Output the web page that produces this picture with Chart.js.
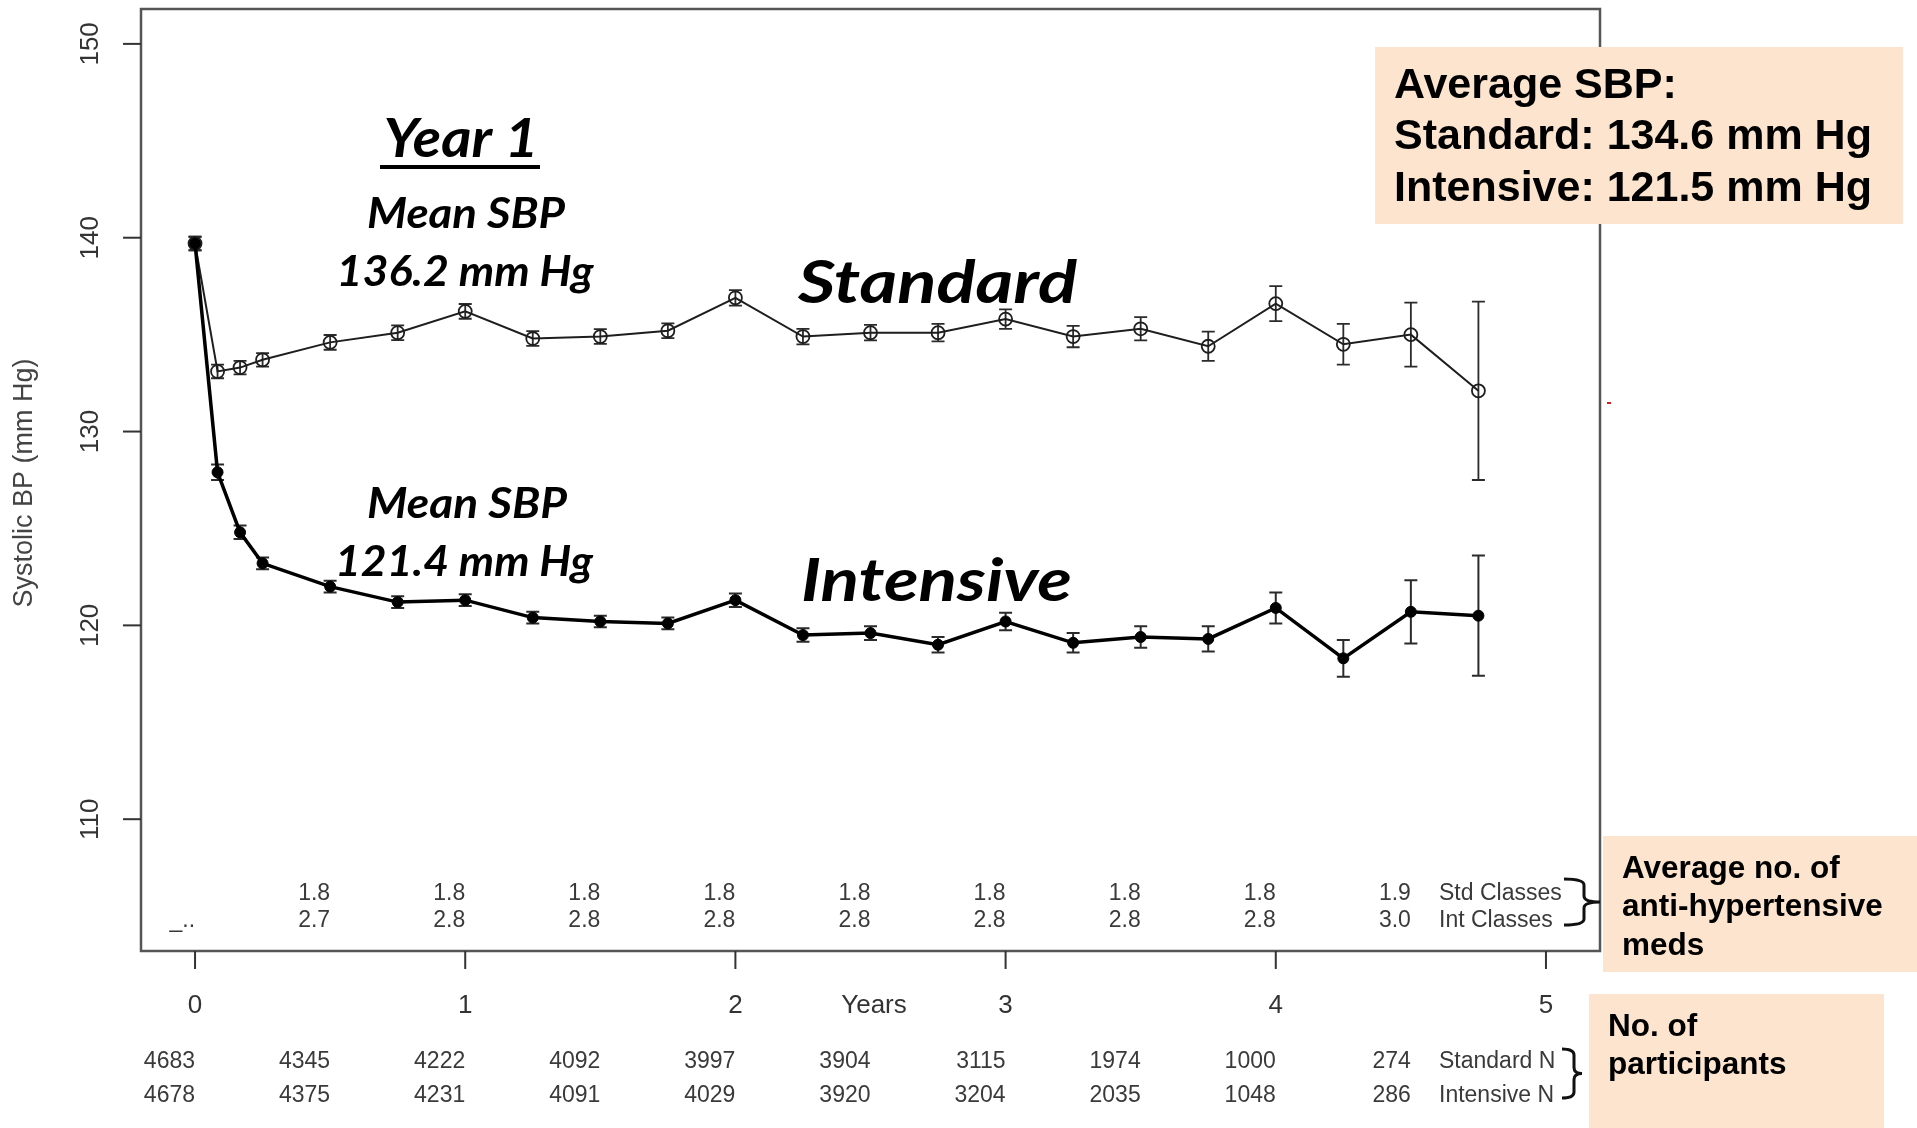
<!DOCTYPE html>
<html>
<head>
<meta charset="utf-8">
<title>Systolic BP over time</title>
<script src="https://cdn.jsdelivr.net/npm/chart.js@4.4.1/dist/chart.umd.min.js"></script>
<style>
  html, body { margin: 0; padding: 0; background: #ffffff; }
  canvas { display: block; }
</style>
</head>
<body>
<canvas id="sbpChart" width="1917" height="1128" style="width:1917px;height:1128px"></canvas>
<script>
// Visit times (years since randomization)
const years = [0, 1/12, 2/12, 0.25, 0.5, 0.75, 1, 1.25, 1.5, 1.75, 2, 2.25, 2.5, 2.75, 3, 3.25, 3.5, 3.75, 4, 4.25, 4.5, 4.75];

// Mean systolic BP (mm Hg) and half-width of the error bar
const standardSBP = [139.7, 133.1, 133.3, 133.7, 134.6, 135.1, 136.2, 134.8, 134.9, 135.2, 136.9, 134.9, 135.1, 135.1, 135.8, 134.9, 135.3, 134.4, 136.6, 134.5, 135.0, 132.1];
const standardErr = [0.35, 0.35, 0.35, 0.35, 0.38, 0.38, 0.38, 0.38, 0.38, 0.38, 0.4, 0.4, 0.4, 0.45, 0.5, 0.55, 0.6, 0.75, 0.9, 1.05, 1.65, 4.6];
const intensiveSBP = [139.7, 127.9, 124.8, 123.2, 122.0, 121.2, 121.3, 120.4, 120.2, 120.1, 121.3, 119.5, 119.6, 119.0, 120.2, 119.1, 119.4, 119.3, 120.9, 118.3, 120.7, 120.5];
const intensiveErr = [0.35, 0.4, 0.35, 0.3, 0.3, 0.3, 0.3, 0.3, 0.3, 0.3, 0.35, 0.35, 0.35, 0.4, 0.45, 0.5, 0.55, 0.65, 0.8, 0.95, 1.63, 3.1];

// Axis ticks
const xTicks = [0, 1, 2, 3, 4, 5];
const yTicks = [110, 120, 130, 140, 150];

// Average number of anti-hypertensive medication classes
const classYears = [0.5, 1, 1.5, 2, 2.5, 3, 3.5, 4, 4.5];
const stdClasses = ['1.8', '1.8', '1.8', '1.8', '1.8', '1.8', '1.8', '1.8', '1.9'];
const intClasses = ['2.7', '2.8', '2.8', '2.8', '2.8', '2.8', '2.8', '2.8', '3.0'];

// Number of participants at each half-year
const nYears = [0, 0.5, 1, 1.5, 2, 2.5, 3, 3.5, 4, 4.5];
const standardN = [4683, 4345, 4222, 4092, 3997, 3904, 3115, 1974, 1000, 274];
const intensiveN = [4678, 4375, 4231, 4091, 4029, 3920, 3204, 2035, 1048, 286];

const toPoints = (vals) => vals.map((v, i) => ({ x: years[i], y: v }));

const SANS = '"Liberation Sans", Arial, Helvetica, sans-serif';
const HAND = 'Lato, "Open Sans", sans-serif';

// Text drawn to a given width (horizontal fit) around a centre point
function fitText(ctx, text, cx, cy, font, width) {
  ctx.save();
  ctx.font = font;
  ctx.textAlign = 'center';
  ctx.textBaseline = 'middle';
  const w = ctx.measureText(text).width;
  const s = width / w;
  ctx.translate(cx, cy);
  ctx.scale(s, 1);
  ctx.fillText(text, 0, 0);
  ctx.restore();
}

function brace(ctx, x0, yTop, yBot, xTip, xMid) {
  const yc = (yTop + yBot) / 2;
  const r = 6;
  ctx.beginPath();
  ctx.moveTo(x0, yTop);
  ctx.quadraticCurveTo(xMid, yTop, xMid, yTop + r);
  ctx.lineTo(xMid, yc - r);
  ctx.quadraticCurveTo(xMid, yc, xTip, yc);
  ctx.quadraticCurveTo(xMid, yc, xMid, yc + r);
  ctx.lineTo(xMid, yBot - r);
  ctx.quadraticCurveTo(xMid, yBot, x0, yBot);
  ctx.stroke();
}

const decor = {
  id: 'sbpDecor',
  beforeDatasetsDraw(chart) {
    const { ctx, scales: { x, y } } = chart;
    ctx.save();
    ctx.strokeStyle = '#2b2b2b';
    [[standardSBP, standardErr, 1.8], [intensiveSBP, intensiveErr, 2]].forEach(([vals, errs, lw]) => {
      ctx.lineWidth = lw;
      vals.forEach((v, i) => {
        const px = x.getPixelForValue(years[i]);
        const top = y.getPixelForValue(v + errs[i]);
        const bot = y.getPixelForValue(v - errs[i]);
        ctx.beginPath();
        ctx.moveTo(px, top); ctx.lineTo(px, bot);
        ctx.moveTo(px - 6.5, top); ctx.lineTo(px + 6.5, top);
        ctx.moveTo(px - 6.5, bot); ctx.lineTo(px + 6.5, bot);
        ctx.stroke();
      });
    });
    ctx.restore();
  },
  afterDraw(chart) {
    const { ctx, chartArea: a, scales: { x, y } } = chart;
    ctx.save();

    // plot frame
    ctx.strokeStyle = '#555555';
    ctx.lineWidth = 2.5;
    ctx.strokeRect(a.left, a.top, a.right - a.left, a.bottom - a.top);

    // y axis ticks and rotated labels
    ctx.strokeStyle = '#333333';
    ctx.lineWidth = 2;
    ctx.fillStyle = '#333333';
    ctx.font = '26px ' + SANS;
    yTicks.forEach(v => {
      const py = y.getPixelForValue(v);
      ctx.beginPath(); ctx.moveTo(a.left - 18, py); ctx.lineTo(a.left, py); ctx.stroke();
      ctx.save();
      ctx.translate(91, py);
      ctx.rotate(-Math.PI / 2);
      ctx.textAlign = 'center';
      ctx.textBaseline = 'middle';
      ctx.fillText(String(v), 0, 0);
      ctx.restore();
    });
    ctx.save();
    ctx.translate(25, 483);
    ctx.rotate(-Math.PI / 2);
    ctx.textAlign = 'center';
    ctx.textBaseline = 'middle';
    ctx.fillStyle = '#444444';
    ctx.font = '27px ' + SANS;
    ctx.fillText('Systolic BP (mm Hg)', 0, 0);
    ctx.restore();

    // x axis ticks and labels
    ctx.textAlign = 'center';
    ctx.textBaseline = 'middle';
    xTicks.forEach(v => {
      const px = x.getPixelForValue(v);
      ctx.beginPath(); ctx.moveTo(px, a.bottom); ctx.lineTo(px, a.bottom + 18); ctx.stroke();
      ctx.fillText(String(v), px, 1006);
    });
    ctx.fillText('Years', 874, 1006);

    // medication classes rows (inside the frame)
    ctx.font = '23px ' + SANS;
    ctx.fillStyle = '#3a3a3a';
    ctx.textAlign = 'right';
    classYears.forEach((t, i) => {
      const px = x.getPixelForValue(t);
      ctx.fillText(stdClasses[i], px, 893.5);
      ctx.fillText(intClasses[i], px, 920.5);
    });
    ctx.fillText('_..', x.getPixelForValue(0), 920.5);
    ctx.textAlign = 'left';
    ctx.fillText('Std Classes', 1439, 893.5);
    ctx.fillText('Int Classes', 1439, 920.5);

    // participant counts below the axis
    ctx.textAlign = 'right';
    nYears.forEach((t, i) => {
      const px = x.getPixelForValue(t);
      ctx.fillText(String(standardN[i]), px, 1061.5);
      ctx.fillText(String(intensiveN[i]), px, 1095.5);
    });
    ctx.textAlign = 'left';
    ctx.fillText('Standard N', 1439, 1061.5);
    ctx.fillText('Intensive N', 1439, 1095.5);

    // braces
    ctx.strokeStyle = '#111111';
    ctx.lineWidth = 3;
    brace(ctx, 1564, 879, 925, 1600, 1584);
    brace(ctx, 1562, 1049, 1098, 1582, 1574);

    // stray red tick beside the frame
    ctx.fillStyle = '#cc2222';
    ctx.fillRect(1607, 402, 4, 2);

    // annotation boxes
    ctx.fillStyle = '#fce4cf';
    ctx.fillRect(1375, 47, 528, 177);
    ctx.fillRect(1603, 836, 314, 136);
    ctx.fillRect(1589, 994, 295, 134);

    ctx.fillStyle = '#000000';
    ctx.textAlign = 'left';
    ctx.textBaseline = 'middle';
    ctx.font = 'bold 43px ' + SANS;
    ctx.fillText('Average SBP:', 1394, 86);
    ctx.fillText('Standard: 134.6 mm Hg', 1394, 137.5);
    ctx.fillText('Intensive: 121.5 mm Hg', 1394, 189);
    ctx.font = 'bold 31.5px ' + SANS;
    ctx.fillText('Average no. of', 1622, 869);
    ctx.fillText('anti-hypertensive', 1622, 907.5);
    ctx.fillText('meds', 1622, 946);
    ctx.fillText('No. of', 1608, 1027.5);
    ctx.fillText('participants', 1608, 1065.5);

    // in-plot labels
    fitText(ctx, 'Year 1', 461, 140, 'italic 700 53px ' + HAND, 155);
    ctx.fillRect(380, 165, 160, 4);
    fitText(ctx, 'Mean SBP', 466, 214.5, 'italic 700 42px ' + HAND, 198);
    fitText(ctx, '136.2 mm Hg', 465, 272.5, 'italic 700 42px ' + HAND, 257);
    fitText(ctx, 'Mean SBP', 467, 504.5, 'italic 700 42px ' + HAND, 200);
    fitText(ctx, '121.4 mm Hg', 464, 562.5, 'italic 700 42px ' + HAND, 258);
    fitText(ctx, 'Standard', 937.5, 284, 'italic 700 60px ' + HAND, 279);
    fitText(ctx, 'Intensive', 936.5, 581.5, 'italic 700 59px ' + HAND, 271);

    ctx.restore();
  }
};

new Chart(document.getElementById('sbpChart'), {
  type: 'scatter',
  data: {
    datasets: [
      {
        label: 'Intensive',
        data: toPoints(intensiveSBP),
        showLine: true,
        borderColor: '#000000',
        borderWidth: 3.5,
        pointRadius: 5.5,
        pointBackgroundColor: '#000000',
        pointBorderColor: '#000000',
        pointBorderWidth: 1,
        tension: 0
      },
      {
        label: 'Standard',
        data: toPoints(standardSBP),
        showLine: true,
        borderColor: '#1e1e1e',
        borderWidth: 2,
        pointRadius: 6.5,
        pointBackgroundColor: 'rgba(0,0,0,0)',
        pointBorderColor: '#1e1e1e',
        pointBorderWidth: 1.8,
        tension: 0
      }
    ]
  },
  options: {
    responsive: false,
    animation: false,
    events: [],
    layout: { padding: { left: 141, top: 9, right: 317, bottom: 177 } },
    plugins: { legend: { display: false }, tooltip: { enabled: false } },
    scales: {
      x: { type: 'linear', min: -0.2, max: 5.2, display: false },
      y: { type: 'linear', min: 103.2, max: 151.8, display: false }
    }
  },
  plugins: [decor]
});
</script>
</body>
</html>
